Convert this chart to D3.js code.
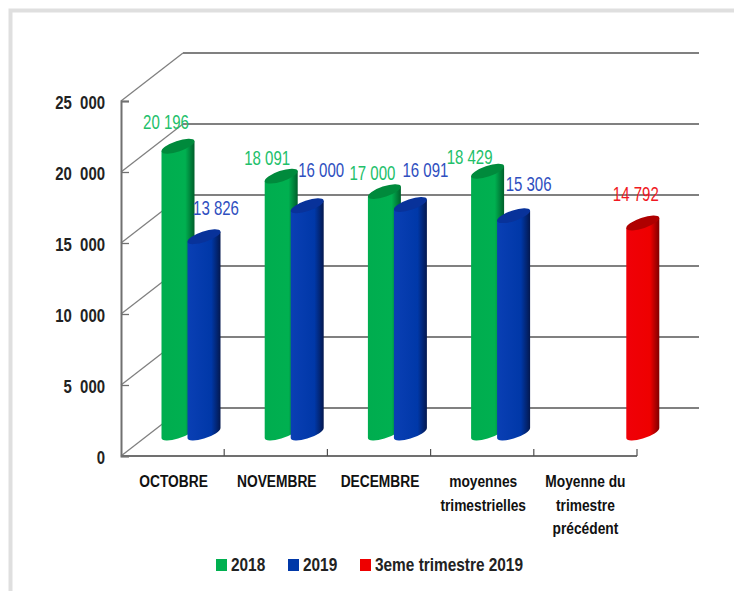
<!DOCTYPE html>
<html>
<head>
<meta charset="utf-8">
<script src="https://cdn.jsdelivr.net/npm/d3@7"></script>
<style>
  html, body { margin: 0; padding: 0; background: #fff; }
  svg { display: block; }
  text { font-family: "Liberation Sans", Arial, sans-serif; }
</style>
</head>
<body>
<script>
// Data
const categories = ['OCTOBRE', 'NOVEMBRE', 'DECEMBRE', 'moyennes trimestrielles', 'Moyenne du trimestre précédent'];
const seriesNames = ['2018', '2019', '3eme trimestre 2019'];
const values2018 = [20196, 18091, 17000, 18429, null];
const values2019 = [13826, 16000, 16091, 15306, null];
const valuesT3 = [null, null, null, null, 14792];
const yTicks = [0, 5000, 10000, 15000, 20000, 25000];
const categoryLines = [['OCTOBRE'], ['NOVEMBRE'], ['DECEMBRE'], ['moyennes', 'trimestrielles'], ['Moyenne du', 'trimestre', 'précédent']];

// Layout
const width = 734, height = 591;
const depthX = 62, depthY = -48;   // shift from front of the box to the back wall
const backRight = 699;

// Hand placed data labels in the original, offset from the top of each bar
const nudge2018 = [[-12, -24], [-14, -18], [-12, -19], [-18, -14], null];
const nudge2019 = [[12, -29], [14, -36], [15, -35], [15, -32], null];
const nudgeT3 = [null, null, null, null, [-7, -29]];

const colors = {
  '2018': { light: '#00ad4f', main: '#00b050', dark: '#005f2b', top: '#008a3c', legend: '#00b050', text: '#22c06a' },
  '2019': { light: '#0a3fb4', main: '#0038a8', dark: '#04184f', top: '#08329a', legend: '#0038a8', text: '#2f4fc0' },
  '3eme trimestre 2019': { light: '#f00008', main: '#ee0000', dark: '#7e0000', top: '#ae0000', legend: '#ee0000', text: '#f01822' }
};

// No narrow face is installed, so squeeze the glyphs horizontally
function narrow(sel, factor) {
  sel.each(function () {
    const t = d3.select(this);
    const tx = +t.attr('x') || 0, ty = +t.attr('y') || 0;
    t.attr('x', 0).attr('y', 0)
      .attr('transform', `translate(${tx},${ty}) scale(${factor},1)`);
  });
}

const svg = d3.select('body').append('svg').attr('width', width).attr('height', height);

// Outer frame
svg.append('path')
  .attr('d', 'M10.5,591 V10.5 H734')
  .attr('fill', 'none').attr('stroke', '#dfdfdf').attr('stroke-width', 4);

const x = d3.scaleBand().domain(categories).range([121, 637]);
const slot = d3.scalePoint().domain(seriesNames).range([57, 109]);
const y = d3.scaleLinear().domain([0, 25000]).range([456, 101]);
const fmt = d => d === 0 ? '0' : d3.format(',')(d).replace(',', ' ');
const fmtAxis = d => d === 0 ? '0' : d3.format(',')(d).replace(',', '\u00a0\u00a0');

// Gradients for the cylinders
const defs = svg.append('defs');
seriesNames.forEach((s, i) => {
  const g = defs.append('linearGradient').attr('id', 'cyl' + i);
  g.append('stop').attr('offset', '0%').attr('stop-color', colors[s].light);
  g.append('stop').attr('offset', '72%').attr('stop-color', colors[s].main);
  g.append('stop').attr('offset', '100%').attr('stop-color', colors[s].dark);
});

// Back wall, side wall, floor
const grid = svg.append('g').attr('stroke', '#808080').attr('fill', 'none');
grid.selectAll('.back').data(yTicks).join('line')
  .attr('x1', 121 + depthX).attr('x2', backRight)
  .attr('y1', d => y(d) + depthY).attr('y2', d => y(d) + depthY)
  .attr('stroke-width', 2);
grid.selectAll('.side').data(yTicks).join('line')
  .attr('x1', 121).attr('x2', 121 + depthX)
  .attr('y1', d => y(d)).attr('y2', d => y(d) + depthY)
  .attr('stroke-width', 1.3);

// Axes
const yAxis = svg.append('g').attr('transform', 'translate(121,0)')
  .call(d3.axisLeft(y).tickValues(yTicks).tickFormat(fmtAxis).tickSize(-8).tickPadding(16));
yAxis.select('.domain').attr('stroke', '#707070').attr('stroke-width', 2);
yAxis.selectAll('.tick line').attr('stroke', '#707070').attr('stroke-width', 1.3);
yAxis.selectAll('.tick text')
  .attr('font-size', 18).attr('font-weight', 'bold').attr('fill', '#222')
  .style('font-family', '"Liberation Sans", Arial, sans-serif')
  .attr('dy', '0.41em')
  .call(narrow, 0.83);

const xAxis = svg.append('g').attr('transform', 'translate(0,456)');
xAxis.append('line').attr('x1', 121).attr('x2', 637).attr('stroke', '#707070').attr('stroke-width', 2);
xAxis.selectAll('.xt').data(categories).join('line')
  .attr('x1', d => x(d) + x.bandwidth())
  .attr('x2', d => x(d) + x.bandwidth())
  .attr('y1', 0).attr('y2', -7)
  .attr('stroke', '#505050').attr('stroke-width', 1.2);

// Category labels
const catLabels = svg.append('g').attr('font-size', 17).attr('font-weight', 'bold').attr('fill', '#111').attr('text-anchor', 'middle');
categoryLines.forEach((lines, i) => {
  const cx = x(categories[i]) + x.bandwidth() / 2 + (i === 4 ? 0 : 1);
  lines.forEach((l, j) => {
    catLabels.append('text').attr('x', cx).attr('y', 487 + j * 23.5).text(l).call(narrow, 0.81);
  });
});

// Cylinders
const rx = 17.3, ry = 5.3, tilt = -18.6, halfW = 16.5, lean = 5;
const baseY = y(0) + depthY / 2 + 1;
const series = [
  { name: seriesNames[0], values: values2018, nudge: nudge2018 },
  { name: seriesNames[1], values: values2019, nudge: nudge2019 },
  { name: seriesNames[2], values: valuesT3, nudge: nudgeT3 }
];

series.forEach((s, si) => {
  const marks = categories.map((c, i) => ({ c, v: s.values[i], n: s.nudge[i] })).filter(d => d.v !== null);
  const cx = d => x(d.c) + slot(s.name);
  const topY = d => baseY - (y(0) - y(d.v));

  const g = svg.append('g');
  g.selectAll('path').data(marks).join('path')
    .attr('fill', `url(#cyl${si})`)
    .attr('d', d => {
      const l = cx(d) - halfW, r = cx(d) + halfW;
      return `M${l},${topY(d) + lean} L${l},${baseY + lean} A${rx},${ry} ${tilt} 0 0 ${r},${baseY - lean} L${r},${topY(d) - lean} Z`;
    });
  g.selectAll('ellipse').data(marks).join('ellipse')
    .attr('rx', rx).attr('ry', ry)
    .attr('transform', d => `translate(${cx(d)},${topY(d)}) rotate(${tilt})`)
    .attr('fill', colors[s.name].top);
});

// Data labels, on top of every bar
series.forEach(s => {
  const marks = categories.map((c, i) => ({ c, v: s.values[i], n: s.nudge[i] })).filter(d => d.v !== null);
  svg.append('g').selectAll('text').data(marks).join('text')
    .attr('x', d => x(d.c) + slot(s.name) + d.n[0])
    .attr('y', d => baseY - (y(0) - y(d.v)) + d.n[1])
    .attr('dy', '0.36em')
    .attr('text-anchor', 'middle')
    .attr('font-size', 19.5)
    .attr('fill', colors[s.name].text)
    .text(d => fmt(d.v))
    .call(narrow, 0.77);
});

// Legend
const legendX = d3.scaleOrdinal().domain(seriesNames).range([216, 288, 360]);
const legend = svg.append('g').selectAll('g').data(seriesNames).join('g')
  .attr('transform', d => `translate(${legendX(d)},559)`);
legend.append('rect').attr('width', 11).attr('height', 12).attr('fill', d => colors[d].legend);
legend.append('text').attr('x', 15).attr('y', 6).attr('dy', '0.36em')
  .attr('font-size', 17.5).attr('font-weight', 'bold').attr('fill', '#222')
  .text(d => d)
  .call(narrow, 0.88);
</script>
</body>
</html>
